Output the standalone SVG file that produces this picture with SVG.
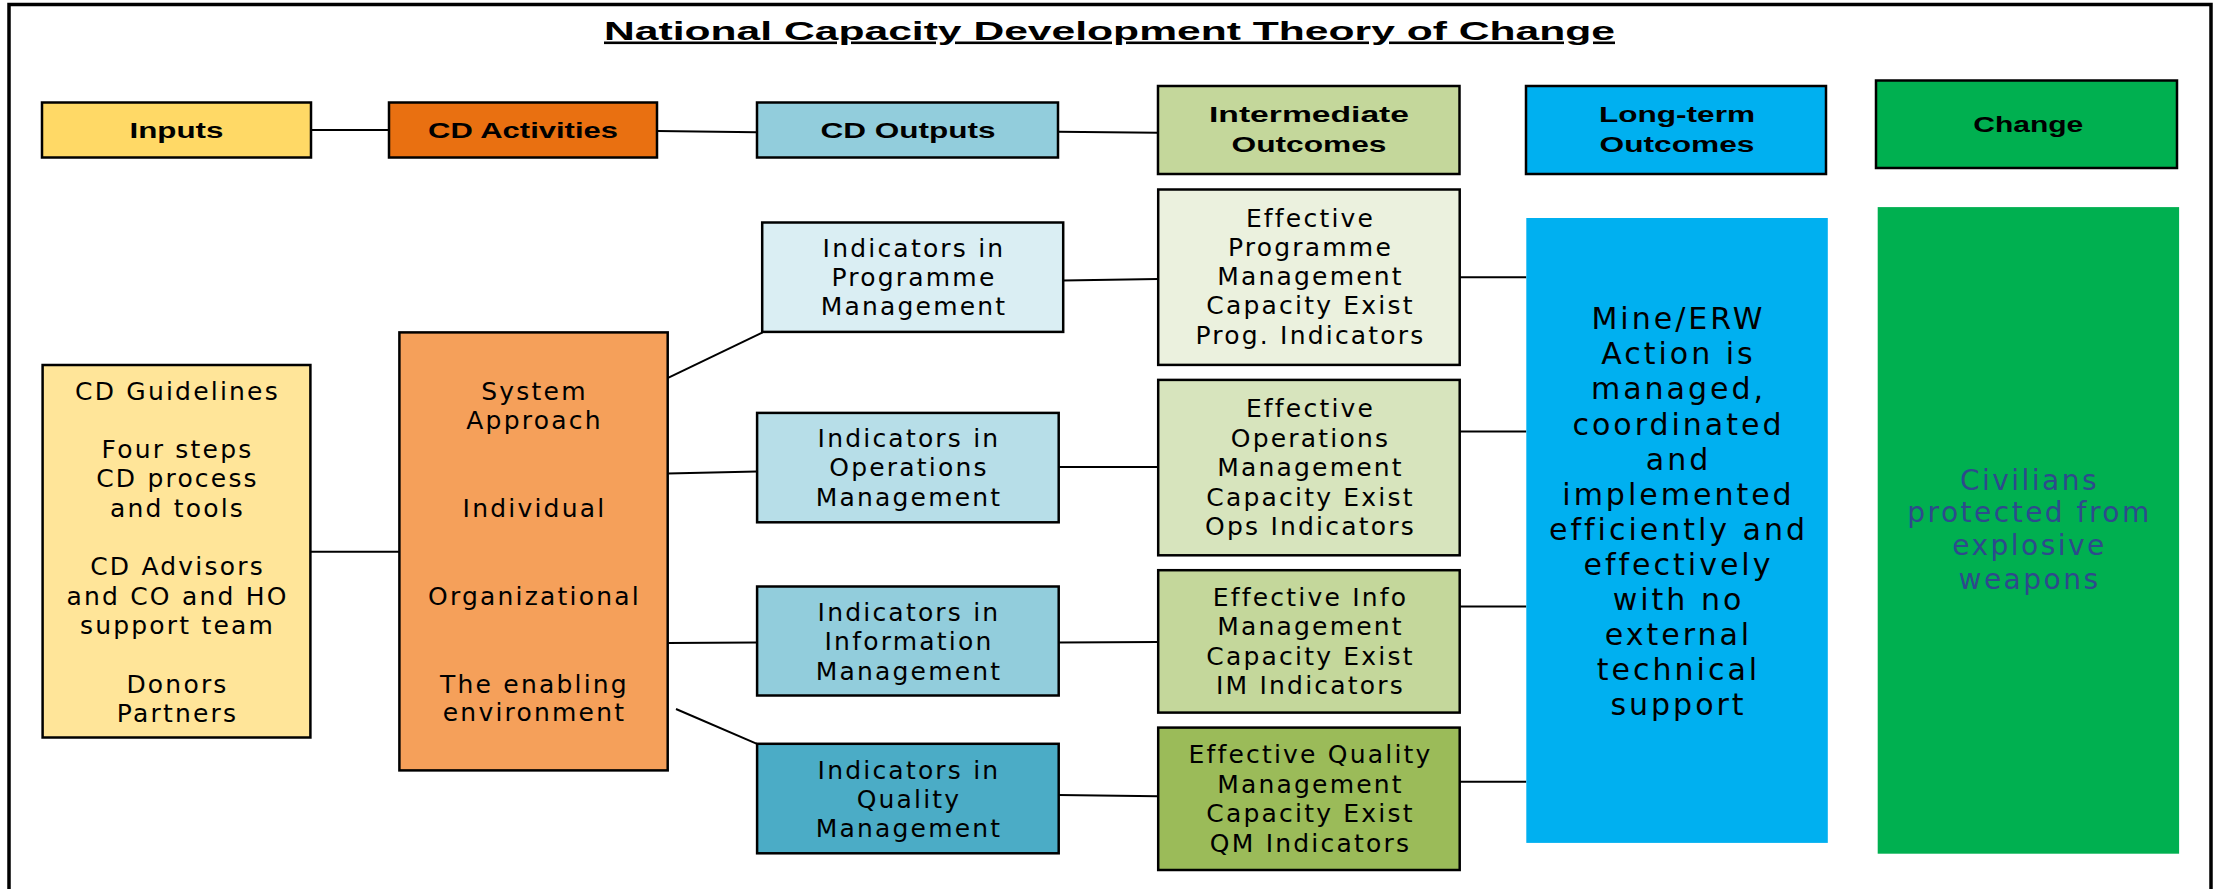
<svg xmlns="http://www.w3.org/2000/svg" width="2214" height="889" viewBox="0 0 2214 889">
<style>
.box{stroke:#000;stroke-width:2.5}
.hd{font-family:"Liberation Sans",Arial,sans-serif;font-weight:bold;font-size:22px;fill:#000;text-anchor:middle}
.tx{font-family:"DejaVu Sans",Verdana,sans-serif;font-size:25px;letter-spacing:2.2px;fill:#000;text-anchor:middle}
.big{font-family:"DejaVu Sans",Verdana,sans-serif;font-size:30px;letter-spacing:3px;fill:#000;text-anchor:middle}
.civ{font-family:"DejaVu Sans",Verdana,sans-serif;font-size:28px;letter-spacing:2.5px;fill:#2E4A8C;text-anchor:middle}
.ln{stroke:#000;stroke-width:2;fill:none}
</style>
<rect width="2214" height="889" fill="#fff"/>
<path d="M9,889 V4.5 H2211 V889" fill="none" stroke="#000" stroke-width="3.5"/>
<text x="1109.5" y="39.5" font-family="'Liberation Sans',Arial,sans-serif" font-weight="bold" font-size="26" text-anchor="middle" text-decoration="underline" textLength="1011" lengthAdjust="spacingAndGlyphs">National Capacity Development Theory of Change</text>

<g id="connectors">
<line class="ln" x1="311" y1="130" x2="389" y2="130"/>
<line class="ln" x1="657" y1="131" x2="757" y2="132.3"/>
<line class="ln" x1="1058" y1="131.7" x2="1158" y2="132.7"/>
<line class="ln" x1="310" y1="551.7" x2="401" y2="551.7"/>
<line class="ln" x1="667" y1="378.3" x2="762.7" y2="332.3"/>
<line class="ln" x1="667.7" y1="473.5" x2="757" y2="471.6"/>
<line class="ln" x1="667.7" y1="643" x2="757" y2="642.5"/>
<line class="ln" x1="676" y1="709" x2="757" y2="743.8"/>
<line class="ln" x1="1063" y1="280.4" x2="1158" y2="279"/>
<line class="ln" x1="1058.7" y1="467" x2="1158" y2="467"/>
<line class="ln" x1="1058.7" y1="642.5" x2="1158" y2="642"/>
<line class="ln" x1="1058.7" y1="795" x2="1158" y2="796.3"/>
<line class="ln" x1="1459.7" y1="277.2" x2="1526.3" y2="277.2"/>
<line class="ln" x1="1459.7" y1="431.4" x2="1526.3" y2="431.4"/>
<line class="ln" x1="1459.7" y1="606.4" x2="1526.3" y2="606.4"/>
<line class="ln" x1="1459.7" y1="781.8" x2="1526.3" y2="781.8"/>
</g>

<g id="h-inputs">
<rect class="box" x="42" y="102.5" width="269" height="55" fill="#FFD966"/>
<text class="hd" x="176.5" y="137.5" textLength="94" lengthAdjust="spacingAndGlyphs">Inputs</text>
</g>
<g id="h-activities">
<rect class="box" x="389" y="102.5" width="268" height="55" fill="#E97011"/>
<text class="hd" x="523" y="137.5" textLength="190" lengthAdjust="spacingAndGlyphs">CD Activities</text>
</g>
<g id="h-outputs">
<rect class="box" x="757" y="102.5" width="301" height="55" fill="#92CDDC"/>
<text class="hd" x="908" y="137.5" textLength="175" lengthAdjust="spacingAndGlyphs">CD Outputs</text>
</g>
<g id="h-intermediate">
<rect class="box" x="1158" y="86" width="301.5" height="88" fill="#C4D79B"/>
<text class="hd" x="1309" y="122.3" textLength="200" lengthAdjust="spacingAndGlyphs">Intermediate</text>
<text class="hd" x="1309" y="151.7" textLength="155" lengthAdjust="spacingAndGlyphs">Outcomes</text>
</g>
<g id="h-longterm">
<rect class="box" x="1526" y="86" width="300" height="88" fill="#00B0F0"/>
<text class="hd" x="1677" y="122.3" textLength="156" lengthAdjust="spacingAndGlyphs">Long-term</text>
<text class="hd" x="1677" y="151.7" textLength="155" lengthAdjust="spacingAndGlyphs">Outcomes</text>
</g>
<g id="h-change">
<rect class="box" x="1876" y="80.5" width="301" height="87.5" fill="#00B050"/>
<text class="hd" x="2028.3" y="131.7" textLength="110" lengthAdjust="spacingAndGlyphs">Change</text>
</g>

<g id="n-guidelines">
<rect class="box" x="42.6" y="365" width="267.8" height="372.5" fill="#FFE599"/>
<text class="tx" x="177.5" y="400">CD Guidelines</text>
<text class="tx" x="177.5" y="457.5">Four steps</text>
<text class="tx" x="177.5" y="487">CD process</text>
<text class="tx" x="177.5" y="516.5">and tools</text>
<text class="tx" x="177.5" y="575">CD Advisors</text>
<text class="tx" x="177.5" y="604.5">and CO and HO</text>
<text class="tx" x="177.5" y="634">support team</text>
<text class="tx" x="177.5" y="692.5">Donors</text>
<text class="tx" x="177.5" y="722">Partners</text>
</g>

<g id="n-activities">
<rect class="box" x="399.4" y="332.4" width="268.3" height="438" fill="#F5A05A"/>
<text class="tx" x="534.5" y="400.2">System</text>
<text class="tx" x="534.5" y="428.7">Approach</text>
<text class="tx" x="534.5" y="516.9">Individual</text>
<text class="tx" x="534.5" y="605">Organizational</text>
<text class="tx" x="534.5" y="693.2">The enabling</text>
<text class="tx" x="534.5" y="721.2">environment</text>
</g>

<g id="n-ind-prog">
<rect class="box" x="762.2" y="222.5" width="301" height="109.4" fill="#DAEEF3"/>
<text class="tx" x="914" y="257">Indicators in</text>
<text class="tx" x="914" y="286.3">Programme</text>
<text class="tx" x="914" y="315">Management</text>
</g>
<g id="n-ind-ops">
<rect class="box" x="757.1" y="412.9" width="301.6" height="109.4" fill="#B7DEE8"/>
<text class="tx" x="909" y="446.8">Indicators in</text>
<text class="tx" x="909" y="476.2">Operations</text>
<text class="tx" x="909" y="505.6">Management</text>
</g>
<g id="n-ind-info">
<rect class="box" x="757.1" y="586.5" width="301.6" height="109" fill="#92CDDC"/>
<text class="tx" x="909" y="620.8">Indicators in</text>
<text class="tx" x="909" y="650.2">Information</text>
<text class="tx" x="909" y="679.6">Management</text>
</g>
<g id="n-ind-quality">
<rect class="box" x="757.1" y="743.8" width="301.6" height="109.5" fill="#4BACC6"/>
<text class="tx" x="909" y="779.1">Indicators in</text>
<text class="tx" x="909" y="807.6">Quality</text>
<text class="tx" x="909" y="836.5">Management</text>
</g>

<g id="n-eff-prog">
<rect class="box" x="1158.2" y="189.5" width="301.5" height="175.4" fill="#EBF1DE"/>
<text class="tx" x="1310.5" y="226.6">Effective</text>
<text class="tx" x="1310.5" y="256">Programme</text>
<text class="tx" x="1310.5" y="285.4">Management</text>
<text class="tx" x="1310.5" y="314.3">Capacity Exist</text>
<text class="tx" x="1310.5" y="343.7">Prog. Indicators</text>
</g>
<g id="n-eff-ops">
<rect class="box" x="1158.2" y="379.9" width="301.5" height="175.4" fill="#D7E4BD"/>
<text class="tx" x="1310.5" y="417.4">Effective</text>
<text class="tx" x="1310.5" y="446.8">Operations</text>
<text class="tx" x="1310.5" y="476.2">Management</text>
<text class="tx" x="1310.5" y="505.6">Capacity Exist</text>
<text class="tx" x="1310.5" y="535">Ops Indicators</text>
</g>
<g id="n-eff-info">
<rect class="box" x="1158.2" y="570.2" width="301.5" height="142.4" fill="#C4D79B"/>
<text class="tx" x="1310.5" y="606.4">Effective Info</text>
<text class="tx" x="1310.5" y="635.3">Management</text>
<text class="tx" x="1310.5" y="664.7">Capacity Exist</text>
<text class="tx" x="1310.5" y="694.1">IM Indicators</text>
</g>
<g id="n-eff-quality">
<rect class="box" x="1158.2" y="727.6" width="301.5" height="142.4" fill="#9BBB59"/>
<text class="tx" x="1310.5" y="763.3">Effective Quality</text>
<text class="tx" x="1310.5" y="792.7">Management</text>
<text class="tx" x="1310.5" y="822">Capacity Exist</text>
<text class="tx" x="1310.5" y="851.5">QM Indicators</text>
</g>

<g id="n-longterm">
<rect x="1526.3" y="218" width="301.5" height="624.9" fill="#00B0F0"/>
<text class="big" x="1678.5" y="329.2">Mine/ERW</text>
<text class="big" x="1678.5" y="364.3">Action is</text>
<text class="big" x="1678.5" y="399.4">managed,</text>
<text class="big" x="1678.5" y="434.5">coordinated</text>
<text class="big" x="1678.5" y="469.6">and</text>
<text class="big" x="1678.5" y="504.7">implemented</text>
<text class="big" x="1678.5" y="539.8">efficiently and</text>
<text class="big" x="1678.5" y="574.9">effectively</text>
<text class="big" x="1678.5" y="610">with no</text>
<text class="big" x="1678.5" y="645.1">external</text>
<text class="big" x="1678.5" y="680.2">technical</text>
<text class="big" x="1678.5" y="715.3">support</text>
</g>

<g id="n-change">
<rect x="1877.7" y="207.1" width="301.4" height="646.6" fill="#00B050"/>
<text class="civ" x="2029.5" y="489.7">Civilians</text>
<text class="civ" x="2029.5" y="522.3">protected from</text>
<text class="civ" x="2029.5" y="555.3">explosive</text>
<text class="civ" x="2029.5" y="589.2">weapons</text>
</g>
</svg>
